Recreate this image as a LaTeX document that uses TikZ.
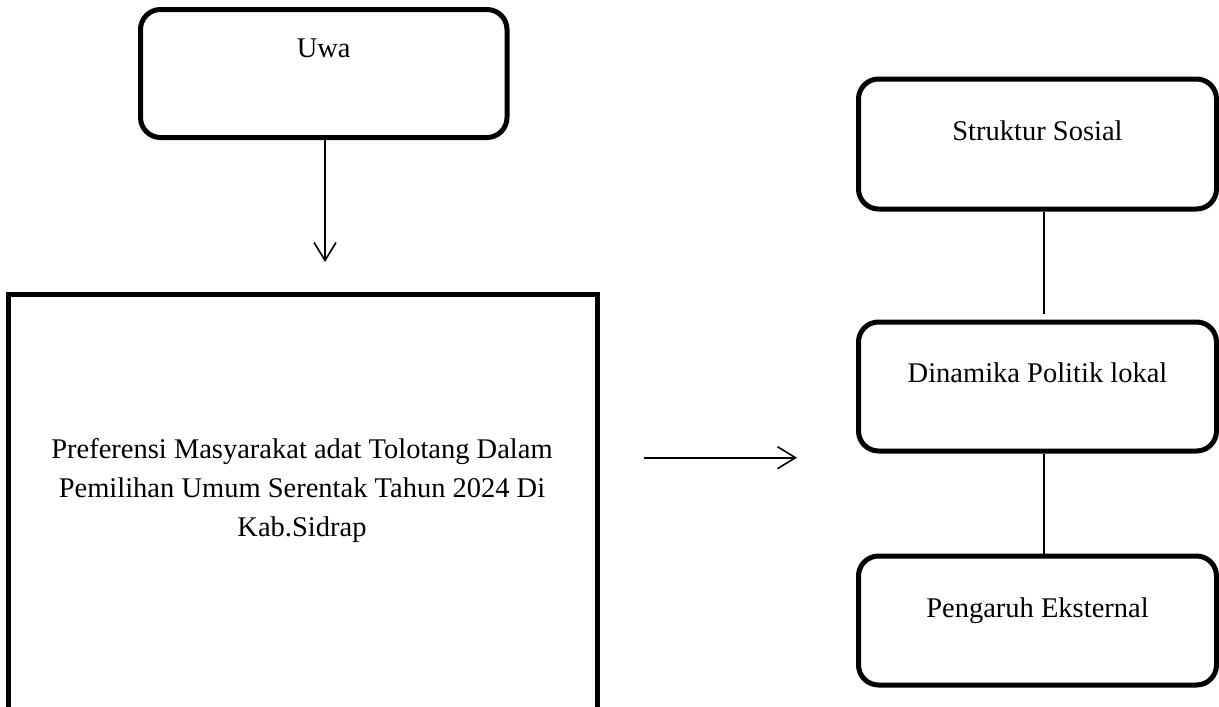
\documentclass[tikz,border=0pt]{standalone}
\usepackage{fontspec}
\setmainfont{Liberation Serif}
\usetikzlibrary{arrows.meta}
\begin{document}
\begin{tikzpicture}[x=1pt,y=-1pt,
  box/.style={draw,line width=5pt,rounded corners=20pt,text height=20pt,inner sep=0pt},
  bigbox/.style={draw,line width=5pt,inner sep=0pt},
  conn/.style={line width=1.6pt},
  arr/.style={conn,-{Straight Barb[length=18pt,width=22pt,line width=1.6pt]}},
  font=\fontsize{28.5}{39}\selectfont]
\useasboundingbox (0,0) rectangle (1219,707);
% left column
\node[box,minimum width=366.5pt,minimum height=128pt,text depth=53pt] (uwa) at (323.75,73.5) {Uwa};
\node[bigbox,minimum width=588.5pt,minimum height=460pt] (main) at (302.75,524.5) {};
\node[align=center,inner sep=0pt] (maintext) at (302,490) {Preferensi Masyarakat adat Tolotang Dalam\\Pemilihan Umum Serentak Tahun 2024 Di\\Kab.Sidrap};
\coordinate (d1) at (325,262);
\draw[arr] (uwa.south -| d1) -- (d1);
% arrow to the right column
\coordinate (r1) at (644,457.7);
\coordinate (r2) at (797,457.7);
\draw[arr] (r1) -- (r2);
% right column
\node[box,minimum width=358pt,minimum height=130pt,text depth=28pt] (s) at (1037.5,144) {Struktur Sosial};
\node[box,minimum width=358pt,minimum height=129pt,text depth=29pt] (d) at (1037.5,386.5) {Dinamika Politik lokal};
\node[box,minimum width=358pt,minimum height=129pt,text depth=27pt] (p) at (1037.5,620.5) {Pengaruh Eksternal};
\coordinate (lx) at (1044,0);
\draw[conn,shorten >=6pt] (s.south -| lx) -- (d.north -| lx);
\draw[conn] (d.south -| lx) -- (p.north -| lx);
\end{tikzpicture}
\end{document}
